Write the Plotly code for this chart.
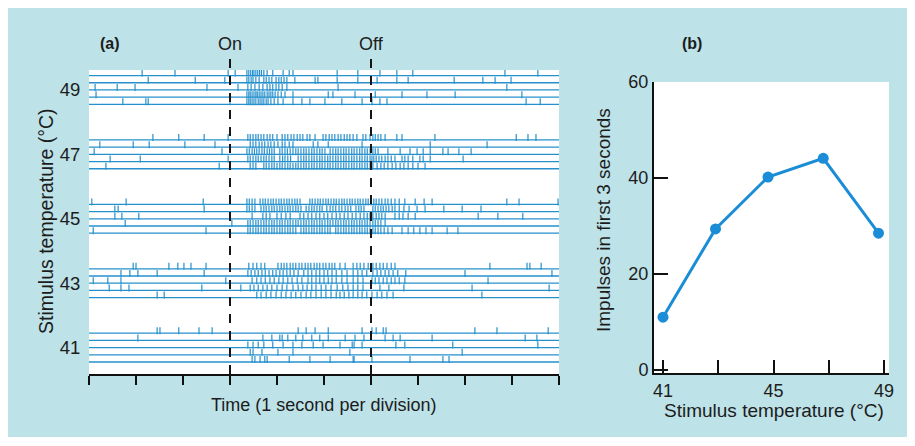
import plotly.graph_objects as go

# ---------------- data ----------------
temperatures = [49, 47, 45, 43, 41]
tick_temps = [41, 43, 45, 47, 49]
time_ticks = list(range(0, 11))
stimulus_events = [("On", 3), ("Off", 6)]

# spike times (s) for 5 trials at each temperature, top trial first
spikes_49 = [
    [1.13, 1.83, 2.96, 3.11, 3.36, 3.40, 3.44, 3.48, 3.51, 3.55, 3.59, 3.63, 3.67, 3.72, 3.79, 3.91, 4.13, 4.26, 4.34, 5.28, 5.72, 6.19, 6.55, 6.89, 8.85, 9.55],
    [1.26, 2.26, 2.89, 3.36, 3.40, 3.45, 3.49, 3.55, 3.62, 3.72, 3.77, 3.83, 3.89, 3.98, 4.04, 4.09, 4.15, 4.21, 4.38, 4.81, 4.87, 5.28, 5.72, 6.13, 6.55, 6.79, 7.77, 8.38, 8.64, 8.98],
    [0.13, 0.60, 0.98, 2.51, 3.17, 3.38, 3.45, 3.53, 3.62, 3.70, 3.79, 3.85, 3.91, 3.98, 4.04, 4.11, 4.21, 5.30, 8.89],
    [0.15, 3.36, 3.40, 3.43, 3.47, 3.51, 3.55, 3.58, 3.62, 3.66, 3.70, 3.74, 3.79, 3.83, 3.87, 3.91, 3.96, 4.02, 4.09, 4.17, 4.34, 5.09, 5.19, 5.66, 6.09, 6.66, 7.19, 7.79, 9.21],
    [0.72, 1.21, 1.26, 3.00, 3.36, 3.40, 3.43, 3.47, 3.51, 3.55, 3.60, 3.64, 3.68, 3.72, 3.77, 3.81, 3.87, 3.94, 4.02, 4.13, 4.34, 4.53, 4.70, 5.02, 5.38, 5.81, 6.02, 6.19, 6.34, 9.30, 9.60],
]
spikes_47 = [
    [1.36, 1.91, 2.45, 2.96, 3.38, 3.43, 3.49, 3.55, 3.60, 3.66, 3.72, 3.79, 3.85, 3.91, 4.00, 4.11, 4.17, 4.23, 4.30, 4.36, 4.43, 4.49, 4.55, 4.64, 4.70, 4.81, 4.98, 5.04, 5.11, 5.17, 5.23, 5.30, 5.36, 5.43, 5.49, 5.55, 5.62, 5.70, 5.83, 5.89, 5.98, 6.04, 6.09, 6.15, 6.21, 6.30, 6.55, 6.66, 7.36, 9.09, 9.34, 9.51],
    [0.23, 0.94, 1.28, 2.04, 2.68, 3.43, 3.49, 3.55, 3.62, 3.68, 3.74, 3.81, 3.87, 3.94, 4.02, 4.11, 4.17, 4.26, 4.34, 4.77, 4.87, 5.09, 5.81, 7.26, 8.47],
    [0.11, 2.83, 3.36, 3.41, 3.47, 3.52, 3.57, 3.62, 3.68, 3.73, 3.79, 3.84, 3.89, 3.94, 4.06, 4.11, 4.17, 4.22, 4.28, 4.34, 4.40, 4.45, 4.51, 4.57, 4.62, 4.68, 4.74, 4.79, 4.85, 4.91, 4.96, 5.02, 5.13, 5.19, 5.25, 5.30, 5.36, 5.42, 5.47, 5.53, 5.59, 5.64, 5.70, 5.76, 5.81, 5.87, 5.92, 5.98, 6.04, 6.09, 6.15, 6.36, 6.62, 6.83, 6.98, 7.11, 7.26, 7.53, 7.64, 7.87, 8.13],
    [0.45, 1.09, 2.96, 3.38, 3.43, 3.49, 3.55, 3.60, 3.66, 3.72, 3.77, 3.83, 3.89, 3.94, 4.06, 4.12, 4.17, 4.23, 4.29, 4.45, 4.51, 4.57, 4.62, 4.68, 4.74, 4.79, 4.85, 4.91, 4.96, 5.02, 5.08, 5.13, 5.19, 5.25, 5.30, 5.36, 5.42, 5.47, 5.53, 5.59, 5.64, 5.70, 5.76, 5.81, 5.87, 5.92, 5.98, 6.02, 6.06, 6.11, 6.17, 6.23, 6.30, 6.36, 6.43, 6.51, 6.66, 6.72, 6.79, 6.89, 7.04, 7.11, 7.26, 7.96],
    [0.36, 2.77, 3.43, 3.49, 3.55, 3.72, 3.77, 3.83, 3.89, 3.94, 4.00, 4.06, 4.11, 4.17, 4.23, 4.28, 4.34, 4.40, 4.45, 4.51, 4.57, 4.62, 4.68, 4.74, 4.79, 4.85, 4.91, 4.96, 5.02, 5.08, 5.13, 5.19, 5.25, 5.30, 5.36, 5.42, 5.47, 5.53, 5.59, 5.64, 5.70, 5.76, 5.81, 5.87, 5.92, 5.98, 6.04, 6.13, 6.21, 6.28, 6.36, 6.45, 6.53, 6.62, 6.70, 6.79, 6.89, 7.00, 7.15],
]
spikes_45 = [
    [0.06, 0.79, 2.43, 3.36, 3.41, 3.47, 3.53, 3.64, 3.70, 3.75, 3.81, 3.87, 3.92, 3.98, 4.04, 4.09, 4.15, 4.21, 4.26, 4.32, 4.38, 4.43, 4.49, 4.70, 4.75, 4.81, 4.87, 4.92, 4.98, 5.04, 5.09, 5.15, 5.21, 5.26, 5.32, 5.38, 5.43, 5.49, 5.55, 5.60, 5.66, 5.72, 5.77, 5.83, 5.89, 5.94, 6.00, 6.06, 6.11, 6.17, 6.23, 6.30, 6.36, 6.43, 6.51, 6.60, 6.72, 6.94, 7.13, 7.30, 8.89, 9.15, 9.98],
    [0.55, 0.62, 2.45, 3.36, 3.41, 3.47, 3.53, 3.66, 3.72, 3.77, 3.83, 3.89, 3.94, 4.00, 4.06, 4.11, 4.17, 4.23, 4.28, 4.34, 4.40, 4.45, 4.51, 4.62, 4.68, 4.74, 4.79, 4.85, 4.91, 4.96, 5.06, 5.13, 5.19, 5.25, 5.32, 5.38, 5.45, 5.51, 5.57, 5.68, 5.74, 5.79, 5.85, 6.04, 6.09, 6.15, 6.21, 6.26, 6.32, 6.38, 6.45, 6.51, 6.60, 6.70, 6.81, 6.98, 7.15, 7.55, 7.94, 8.34],
    [0.55, 0.70, 1.06, 3.47, 3.70, 3.77, 3.85, 4.00, 4.09, 4.19, 4.28, 4.49, 4.57, 4.66, 4.74, 4.83, 4.91, 5.00, 5.08, 5.17, 5.26, 5.34, 5.43, 5.51, 5.60, 5.68, 5.77, 5.85, 5.92, 5.98, 6.04, 6.11, 6.17, 6.23, 6.30, 6.51, 6.60, 6.68, 6.79, 6.94, 8.28, 8.70, 9.23],
    [0.77, 3.04, 3.38, 3.43, 3.49, 3.55, 3.60, 3.66, 3.72, 3.77, 3.83, 3.89, 3.94, 4.00, 4.06, 4.11, 4.17, 4.23, 4.28, 4.34, 4.40, 4.45, 4.51, 4.57, 4.62, 4.68, 4.74, 4.79, 4.85, 4.91, 4.96, 5.02, 5.08, 5.13, 5.19, 5.25, 5.30, 5.36, 5.42, 5.47, 5.53, 5.59, 5.64, 5.70, 5.76, 5.81, 5.87, 5.92, 5.98, 6.04, 6.09, 6.15, 6.21, 6.30],
    [0.09, 2.49, 3.38, 3.43, 3.49, 3.55, 3.60, 3.66, 3.72, 3.77, 3.83, 3.89, 3.94, 4.00, 4.06, 4.11, 4.17, 4.23, 4.28, 4.34, 4.40, 4.51, 4.57, 4.62, 4.68, 4.74, 4.79, 4.85, 4.91, 4.96, 5.02, 5.08, 5.13, 5.25, 5.30, 5.36, 5.42, 5.47, 5.53, 5.59, 5.64, 5.70, 5.76, 5.81, 5.87, 5.92, 5.98, 6.04, 6.09, 6.15, 6.21, 6.28, 6.36, 6.45, 6.66, 6.79, 6.91, 7.04, 7.17, 7.30, 7.62, 7.85],
]
spikes_43 = [
    [0.94, 1.00, 1.70, 1.89, 2.02, 2.17, 2.49, 3.40, 3.49, 3.57, 3.66, 3.74, 4.02, 4.09, 4.15, 4.21, 4.28, 4.34, 4.40, 4.47, 4.53, 4.60, 4.66, 4.72, 4.79, 4.85, 4.91, 4.98, 5.04, 5.11, 5.17, 5.23, 5.34, 5.45, 5.62, 5.70, 5.77, 5.85, 5.94, 6.04, 6.11, 6.19, 6.26, 6.34, 6.43, 6.51, 8.53, 9.32, 9.38, 9.62],
    [0.68, 0.87, 1.04, 1.45, 2.45, 3.38, 3.45, 3.53, 3.60, 3.68, 3.75, 3.83, 3.91, 3.98, 4.06, 4.13, 4.21, 4.28, 4.36, 4.45, 4.57, 4.66, 4.74, 4.83, 4.91, 5.00, 5.08, 5.17, 5.26, 5.38, 5.49, 5.62, 5.72, 5.81, 5.91, 6.04, 6.13, 6.21, 6.30, 6.38, 6.47, 6.57, 6.74, 8.00, 9.85],
    [0.09, 0.40, 0.68, 2.91, 3.47, 3.57, 3.66, 3.75, 3.85, 3.94, 4.04, 4.13, 4.23, 4.32, 4.43, 4.53, 4.66, 4.74, 4.83, 4.91, 5.00, 5.09, 5.17, 5.26, 5.38, 5.49, 5.62, 5.72, 5.83, 6.02, 6.09, 6.17, 6.26, 6.34, 6.43, 6.51, 6.60, 6.72, 8.49],
    [0.43, 0.68, 0.85, 2.40, 3.23, 3.43, 3.51, 3.60, 3.70, 3.79, 3.89, 4.00, 4.11, 4.21, 4.34, 4.45, 4.55, 4.64, 4.74, 4.83, 4.94, 5.04, 5.15, 5.28, 5.40, 5.51, 5.62, 5.72, 5.83, 6.19, 6.38, 6.70, 8.15, 9.79],
    [1.45, 1.60, 3.57, 3.66, 3.77, 3.87, 3.98, 4.09, 4.19, 4.30, 4.40, 4.51, 4.62, 4.72, 4.83, 4.94, 5.04, 5.15, 5.26, 5.34, 5.43, 5.53, 5.62, 5.72, 5.81, 5.91, 6.02, 6.13, 6.23, 6.34, 6.47, 8.36],
]
spikes_41 = [
    [1.45, 1.51, 1.91, 2.34, 2.62, 4.45, 4.62, 4.81, 5.09, 5.81, 6.02, 6.11, 6.26, 6.32, 8.21, 8.68, 9.77],
    [1.04, 3.70, 3.89, 4.06, 4.11, 4.23, 4.40, 4.55, 4.74, 4.91, 5.09, 5.45, 5.66, 5.85, 6.30, 6.47, 6.62, 7.30, 9.28, 9.53],
    [3.38, 3.49, 3.60, 3.72, 3.91, 4.13, 4.34, 4.53, 4.77, 4.98, 5.34, 5.60, 5.64, 5.81, 6.53, 6.72, 7.74, 9.55],
    [3.43, 3.49, 3.68, 4.02, 4.34, 5.55, 7.94],
    [3.47, 3.53, 3.64, 3.74, 3.79, 4.26, 4.70, 5.13, 5.62, 5.64, 6.02, 6.83, 7.53, 7.66],
]
spike_trains = {49: spikes_49, 47: spikes_47, 45: spikes_45, 43: spikes_43, 41: spikes_41}

# panel (b)
curve_temps = [41, 42.9, 44.8, 46.8, 48.8]
impulses_3s = [11.0, 29.4, 40.2, 44.1, 28.5]

# ---------------- geometry helpers ----------------
# the page body has an 8px margin, so the figure starts at screen (8, 8)
OFF = 8
W, H = 915 - OFF, 437 - OFF
def px_x(p):
    return (p - OFF) / W
def px_y(p):
    return 1 - (p - OFF) / H

BG = "#bde2e8"
RASTER = "#2690cc"
CURVE = "#1a8dd6"
TXT = "#1c1c1c"
FONT = "Liberation Sans, Arial, sans-serif"

ya_range = [40.18, 49.62]
ya_dom_px = (374, 70)
px_per_deg = (ya_dom_px[0] - ya_dom_px[1]) / (ya_range[1] - ya_range[0])
line_step = 7.2 / px_per_deg
spike_len_px = 5
spike_off = (spike_len_px / 2) / px_per_deg

fig = go.Figure()

for temp in temperatures:
    trials = spike_trains[temp]
    for i, times in enumerate(trials):
        base = temp + (2 - i) * line_step
        fig.add_trace(go.Scatter(
            x=[time_ticks[0], time_ticks[-1]], y=[base, base], mode="lines",
            line=dict(color=RASTER, width=1.3), xaxis="x", yaxis="y",
            hoverinfo="skip", showlegend=False))
        fig.add_trace(go.Scatter(
            x=times, y=[base + spike_off] * len(times), mode="markers",
            marker=dict(symbol="line-ns", size=spike_len_px,
                        line=dict(color=RASTER, width=1.2)),
            xaxis="x", yaxis="y", hoverinfo="skip", showlegend=False))

fig.add_trace(go.Scatter(
    x=curve_temps, y=impulses_3s, mode="lines+markers",
    line=dict(color=CURVE, width=3),
    marker=dict(color=CURVE, size=11),
    xaxis="x2", yaxis="y2", showlegend=False))

shapes = []
annotations = []
for label, t in stimulus_events:
    shapes.append(dict(type="line", xref="x", yref="paper", x0=t, x1=t,
                       y0=px_y(374), y1=px_y(55),
                       line=dict(color="#151515", width=2, dash="9px,8px"),
                       layer="above"))
    annotations.append(dict(text=label, xref="x", yref="paper", x=t, y=px_y(44),
                            showarrow=False, font=dict(size=18, color=TXT, family=FONT),
                            xanchor="center", yanchor="middle"))

def ann(text, x, y, size, bold=False, angle=0):
    annotations.append(dict(
        text=f"<b>{text}</b>" if bold else text, xref="paper", yref="paper",
        x=px_x(x), y=px_y(y), showarrow=False, textangle=angle,
        font=dict(size=size, color=TXT, family=FONT),
        xanchor="center", yanchor="middle"))

ann("(a)", 110, 43, 16, bold=True)
ann("(b)", 692, 43, 16, bold=True)
ann("Stimulus temperature (°C)", 46, 221, 19.5, angle=-90)
ann("Time (1 second per division)", 323, 405, 18)
ann("Impulses in first 3 seconds", 604, 220, 19, angle=-90)
ann("Stimulus temperature (°C)", 774, 410, 19)

axis_common = dict(showgrid=False, zeroline=False, automargin=False, fixedrange=True)

fig.update_layout(
    width=W, height=H,
    margin=dict(l=0, r=0, t=0, b=0, pad=0),
    paper_bgcolor=BG, plot_bgcolor="white",
    template="none",
    font=dict(family=FONT, color=TXT),
    showlegend=False,
    xaxis=dict(domain=[px_x(89), px_x(559)], range=[time_ticks[0], time_ticks[-1]],
               anchor="y", showline=True, linecolor="#111", linewidth=2,
               ticks="outside", ticklen=9, tickwidth=2, tickcolor="#111",
               tickvals=time_ticks, showticklabels=False, **axis_common),
    yaxis=dict(domain=[px_y(ya_dom_px[0]), px_y(ya_dom_px[1])], range=ya_range,
               anchor="x", showline=False, ticks="outside", ticklen=4,
               tickcolor="rgba(0,0,0,0)", tickvals=tick_temps,
               tickfont=dict(size=18.5, color=TXT, family=FONT), **axis_common),
    xaxis2=dict(domain=[px_x(654), px_x(889)], range=[40.674, 49.18],
                anchor="y2", showline=True, linecolor="#111", linewidth=2,
                ticks="inside", ticklen=13, tickwidth=2, tickcolor="#111",
                tickvals=tick_temps, ticktext=["41", "", "45", "", "49"],
                tickfont=dict(size=18, color=TXT, family=FONT), **axis_common),
    yaxis2=dict(domain=[px_y(373), px_y(82)], range=[-0.62, 60],
                anchor="x2", showline=True, linecolor="#111", linewidth=2,
                ticks="inside", ticklen=14, tickwidth=2, tickcolor="#111",
                tickvals=[0, 20, 40, 60],
                tickfont=dict(size=18, color=TXT, family=FONT), **axis_common),
    shapes=shapes, annotations=annotations,
)

fig.write_html("out.html")
